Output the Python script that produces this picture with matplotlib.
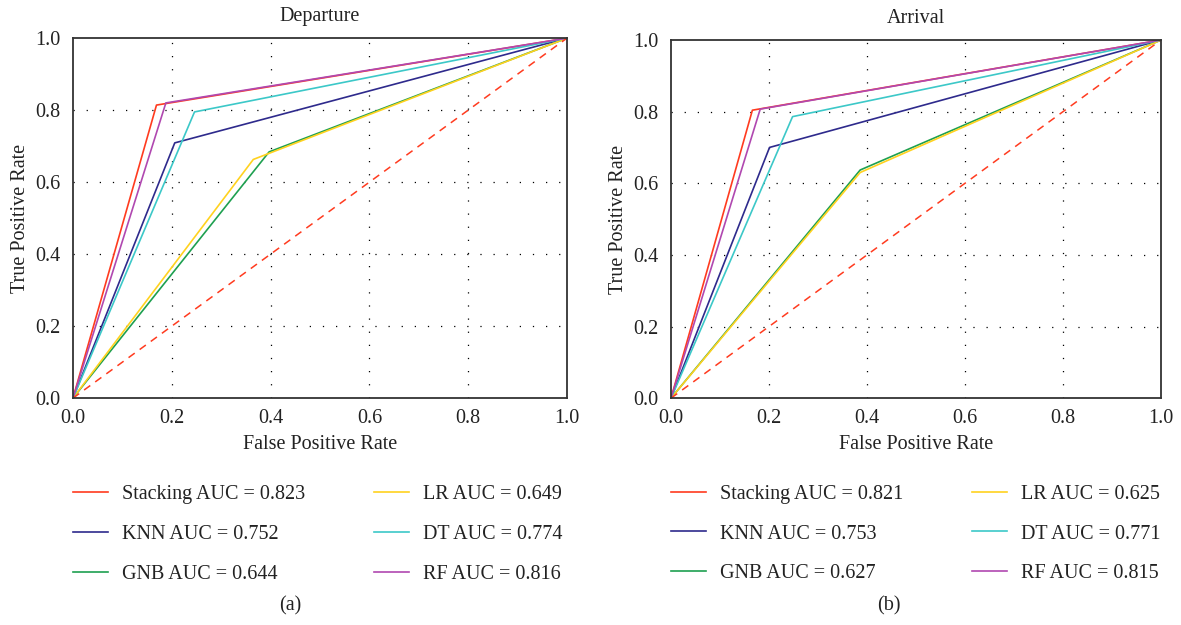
import numpy as np
import matplotlib.pyplot as plt

plt.rcParams['font.family'] = ['Liberation Serif', 'DejaVu Serif']

# model names and colours
models = ["Stacking", "KNN", "GNB", "LR", "DT", "RF"]
colors = ["#ff3b1f", "#2e2a8c", "#1ea050", "#ffd21f", "#3cc8c8", "#b048b0"]

# ROC knee points (fpr, tpr), each curve is 0 -> knee -> 1
dep_fpr = [0.169, 0.206, 0.397, 0.365, 0.246, 0.188]
dep_tpr = [0.814, 0.709, 0.684, 0.663, 0.795, 0.820]
dep_auc = [0.823, 0.752, 0.644, 0.649, 0.774, 0.816]

arr_fpr = [0.166, 0.201, 0.386, 0.386, 0.248, 0.182]
arr_tpr = [0.804, 0.700, 0.637, 0.630, 0.786, 0.807]
arr_auc = [0.821, 0.753, 0.627, 0.625, 0.771, 0.815]

ticks = [0.0, 0.2, 0.4, 0.6, 0.8, 1.0]
FS = 14.5
TXT = "#222222"

fig = plt.figure(figsize=(11.81, 6.25), dpi=100)
ax1 = fig.add_axes([0.0618, 0.363, 0.4183, 0.576])
ax2 = fig.add_axes([0.5682, 0.363, 0.4149, 0.573])


def draw(ax, fpr, tpr, auc, title):
    # dotted grid
    for t in ticks[1:-1]:
        ax.axvline(t, color="black", lw=0.9, ls=(0, (1, 9.5)), zorder=0)
        ax.axhline(t, color="black", lw=0.9, ls=(0, (1, 9.5)), zorder=0)
    handles = []
    for name, c, fx, ty, a in zip(models, colors, fpr, tpr, auc):
        h, = ax.plot([0, fx, 1], [0, ty, 1], color=c, lw=1.2,
                     label=f"{name} AUC = {a:.3f}")
        handles.append(h)
    ax.plot([0, 1], [0, 1], color="#ff3b1f", lw=1.1, ls=(0, (5, 4)))
    ax.set_xlim(0, 1)
    ax.set_ylim(0, 1)
    ax.set_xticks(ticks)
    ax.set_yticks(ticks)
    ax.set_xticklabels([f"{t:.1f}" for t in ticks])
    ax.set_yticklabels([f"{t:.1f}" for t in ticks])
    ax.tick_params(length=0, labelsize=FS, colors=TXT)
    ax.tick_params(axis="x", pad=8)
    ax.tick_params(axis="y", pad=9)
    for s in ax.spines.values():
        s.set_linewidth(1.3)
        s.set_color("#333333")
    ax.set_title(title, fontsize=FS, color=TXT, pad=12)
    ax.set_xlabel("False Positive Rate", fontsize=FS, color=TXT, labelpad=5)
    ax.set_ylabel("True Positive Rate", fontsize=FS, color=TXT, labelpad=4)
    # legend: column-major ordering gives Stacking/KNN/GNB then LR/DT/RF
    ax.legend(handles=handles, ncol=2, loc="upper left",
              bbox_to_anchor=(0.0, -0.242), frameon=False, fontsize=FS,
              handlelength=1.75, handletextpad=0.7, labelspacing=1.02,
              columnspacing=3.4, borderpad=0, borderaxespad=0,
              labelcolor=TXT)


draw(ax1, dep_fpr, dep_tpr, dep_auc, "Departure")
draw(ax2, arr_fpr, arr_tpr, arr_auc, "Arrival")

fig.text(0.2455, 1 - 606 / 625, "(a)", ha="center", va="center", fontsize=FS, color=TXT)
fig.text(0.7525, 1 - 606 / 625, "(b)", ha="center", va="center", fontsize=FS, color=TXT)

fig.savefig("out.png", dpi=100)
